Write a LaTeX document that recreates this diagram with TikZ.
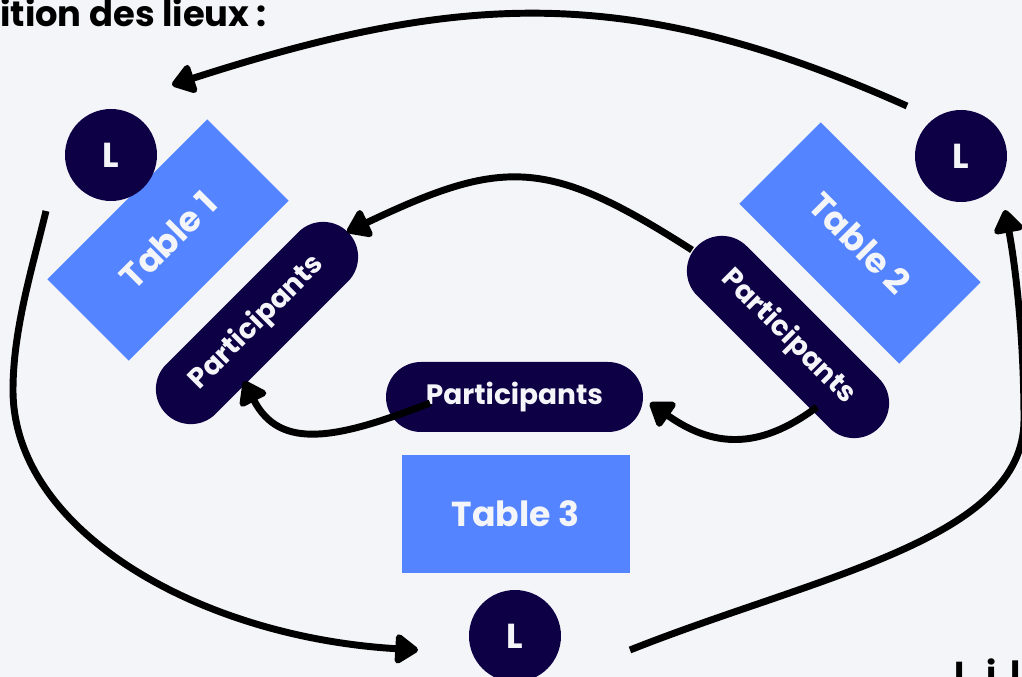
\documentclass[tikz,border=0pt]{standalone}
\usepackage{fontspec}
\setmainfont{Poppins}
\usetikzlibrary{arrows.meta}
\definecolor{bg}{HTML}{F4F5F8}
\definecolor{tblue}{HTML}{5484FF}
\definecolor{navy}{HTML}{0D0044}
\begin{document}
\begin{tikzpicture}[x=0.75pt,y=-0.75pt,
  tablebox/.style={fill=tblue, minimum width=169.5pt, minimum height=86.25pt, inner sep=0pt, text=bg, font=\fontsize{26}{30}\selectfont\bfseries},
  lcircle/.style={circle, fill=navy, minimum size=69pt, inner sep=0pt, text=bg, font=\fontsize{26}{30}\selectfont\bfseries},
  pill/.style={rounded corners=26.25pt, fill=navy, minimum width=192.75pt, minimum height=52.5pt, inner sep=0pt, text=bg, font=\fontsize{21}{24}\selectfont\bfseries},
  flow/.style={line width=5.2pt, -{Triangle[length=19pt,width=25pt,round]}},
  plain/.style={inner sep=0pt, font=\fontsize{26.5}{28}\selectfont\bfseries},
]
\useasboundingbox (0,0) rectangle (1022,677);
\clip (0,0) rectangle (1022,677);
\fill[bg] (0,0) rectangle (1022,677);

% tables
\node[tablebox, rotate=45] (t1) at (168,240) {Table 1};
\node[tablebox, rotate=-45] (t2) at (860,243) {Table 2};
\node[tablebox, minimum width=171pt, minimum height=88pt] (t3) at (515.5,514) {Table 3};

% L circles
\node[lcircle] (l1) at (111,155) {L};
\node[lcircle] (l2) at (961,156) {L};
\node[lcircle] (l3) at (515,636) {L};

% participants
\node[pill, rotate=45] (p1) at (257,323) {Participants};
\node[pill, rotate=-45] (p2) at (788,337) {Participants};
\node[pill] (p3) at (514.5,397) {Participants};

% arrow ends
\coordinate (a1s) at (907,106);
\coordinate (a1e) at (172,85);
\coordinate (a2s) at (46,211);
\coordinate (a2m) at (13,390);
\coordinate (a2e) at (418,650);
\coordinate (a3s) at (630,650);
\coordinate (a3m) at (1024,420);
\coordinate (a3e) at (1005,210);
\coordinate (a4s) at (692,250);
\coordinate (a4e) at (347,232);
\coordinate (a5s) at (430,403);
\coordinate (a5e) at (244,381);
\coordinate (a6s) at (817,407);
\coordinate (a6e) at (650,403);

\draw[flow] (a1s) .. controls (629,-18) and (461,-8) .. (a1e);
\draw[flow] (a2s) .. controls (32,269) and (13,330) .. (a2m)
  .. controls (13,530) and (198,637) .. (a2e);
\draw[flow] (a3s) .. controls (816,576) and (1024,540) .. (a3m)
  .. controls (1024,340) and (1016,269) .. (a3e);
\draw[flow] (a4s) .. controls (547,157) and (503,158) .. (a4e);
\draw[flow] (a5s) .. controls (337,439) and (280,451) .. (a5e);
\draw[flow] (a6s) .. controls (757,452) and (711,446) .. (a6e);

% texts
\node[plain, anchor=base west] (title) at (0,27) {ition des lieux\ :};
\node[plain, anchor=base west, font=\fontsize{26}{30}\selectfont\bfseries] (cut) at (954,686) {L\hspace{0.45em}i\hspace{0.4em}l};
\end{tikzpicture}
\end{document}
